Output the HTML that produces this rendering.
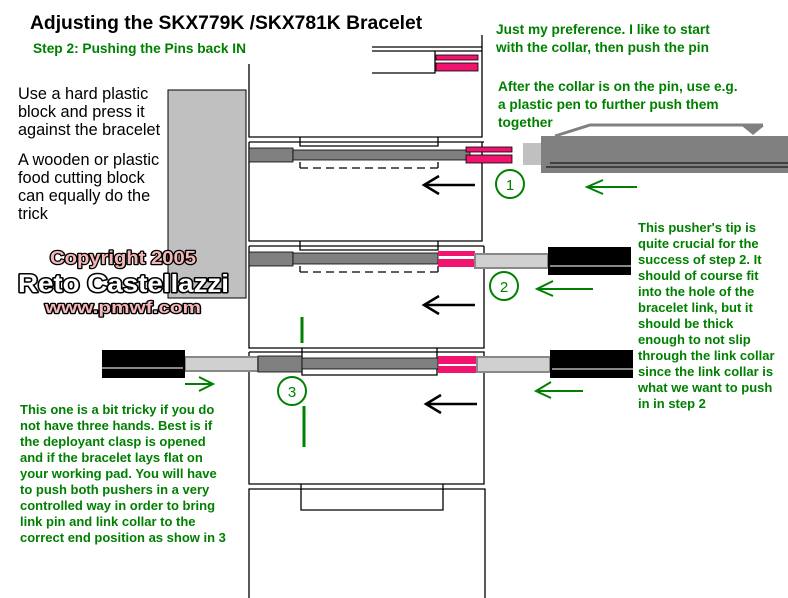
<!DOCTYPE html>
<html><head><style>
body{margin:0;background:#fff}
svg{display:block}
text{font-family:"Liberation Sans",Arial,sans-serif}
.g{fill:#008000;font-weight:bold;font-size:13.7px}
.k{font-size:16.3px;fill:#000}
</style></head><body>
<svg width="788" height="598" viewBox="0 0 788 598">
<text x="30" y="29" font-size="19.3" font-weight="bold">Adjusting the SKX779K /SKX781K Bracelet</text>
<text x="33" y="53" class="g" font-size="12">Step 2: Pushing the Pins back IN</text>
<g class="g">
<text x="496" y="34">Just my preference. I like to start</text>
<text x="496" y="52">with the collar, then push the pin</text>
<text x="498" y="91">After the collar is on the pin, use e.g.</text>
<text x="498" y="109">a plastic pen to further push them</text>
<text x="498" y="127">together</text>
<g font-size="13">
<text x="638" y="232">This pusher's tip is</text>
<text x="638" y="248">quite crucial for the</text>
<text x="638" y="264">success of step 2. It</text>
<text x="638" y="280">should of course fit</text>
<text x="638" y="296">into the hole of the</text>
<text x="638" y="312">bracelet link, but it</text>
<text x="638" y="328">should be thick</text>
<text x="638" y="344">enough to not slip</text>
<text x="638" y="360">through the link collar</text>
<text x="638" y="376">since the link collar is</text>
<text x="638" y="392">what we want to push</text>
<text x="638" y="408">in in step 2</text>
<text x="20" y="414">This one is a bit tricky if you do</text>
<text x="20" y="430">not have three hands. Best is if</text>
<text x="20" y="446">the deployant clasp is opened</text>
<text x="20" y="462">and if the bracelet lays flat on</text>
<text x="20" y="478">your working pad. You will have</text>
<text x="20" y="494">to push both pushers in a very</text>
<text x="20" y="510">controlled way in order to bring</text>
<text x="20" y="526">link pin and link collar to the</text>
<text x="20" y="542">correct end position as show in 3</text>
</g></g>
<g class="k">
<text x="18" y="99">Use a hard plastic</text>
<text x="18" y="117">block and press it</text>
<text x="18" y="135">against the bracelet</text>
<text x="18" y="165">A wooden or plastic</text>
<text x="18" y="183">food cutting block</text>
<text x="18" y="201">can equally do the</text>
<text x="18" y="219">trick</text>
</g>
<rect x="168" y="90" width="78" height="208" fill="#c0c0c0" stroke="#000"/>
<g font-weight="bold" stroke="#000" stroke-linejoin="round" style="paint-order:stroke">
<text x="50" y="264" font-size="18" fill="#f4b8b8" stroke-width="2.5" textLength="146" lengthAdjust="spacingAndGlyphs">Copyright 2005</text>
<text x="18" y="292" font-size="25" fill="#fff" stroke-width="3" textLength="211" lengthAdjust="spacingAndGlyphs">Reto Castellazzi</text>
<text x="45" y="313" font-size="17" fill="#f4b8b8" stroke-width="2.5" textLength="156" lengthAdjust="spacingAndGlyphs">www.pmwf.com</text>
</g>
<g fill="none" stroke="#000" stroke-width="1.3">
<path d="M482 35V137H249V64"/>
<path d="M372 47H482M372 51H482M372 73H435V51"/>
<path d="M249 142H484M300 137V146H438V137M249 142V241H482V142"/>
<path d="M300 162V168M438 162V168"/>
<path d="M300 168H438" stroke-dasharray="8,5"/>
<path d="M249 246H484M300 241V250H438V241M249 246V348H484V246"/>
<path d="M300 266V272M438 266V272"/>
<path d="M300 272H438" stroke-dasharray="8,5"/>
<path d="M249 352H484V484H249V352M302 348V375H437V348"/>
<path d="M249 598V489H485V598M301 484V510H443V484"/>
</g>
<rect x="436" y="55" width="42" height="5" fill="#f0146e" stroke="#000" stroke-width=".8"/>
<rect x="436" y="63" width="42" height="8" fill="#f0146e" stroke="#000" stroke-width=".8"/>
<rect x="249" y="148" width="44" height="14" fill="#808080" stroke="#000" stroke-width=".8"/>
<rect x="293" y="150" width="177" height="10" fill="#808080" stroke="#000" stroke-width=".8"/>
<rect x="466" y="147" width="46" height="5" fill="#f0146e" stroke="#000" stroke-width=".8"/>
<rect x="466" y="155" width="46" height="8" fill="#f0146e" stroke="#000" stroke-width=".8"/>
<rect x="523" y="143" width="18" height="22" fill="#c0c0c0"/>
<rect x="541" y="136" width="247" height="37" fill="#808080"/>
<path d="M555 136L590 125H763" fill="none" stroke="#808080" stroke-width="3"/>
<path d="M742 126H764L753 135Z" fill="#808080"/>
<path d="M550 163H788M546 167H788" stroke="#000"/>
<rect x="249" y="252" width="44" height="14" fill="#808080" stroke="#000" stroke-width=".8"/>
<rect x="293" y="253" width="145" height="11" fill="#808080" stroke="#000" stroke-width=".8"/>
<rect x="438" y="251" width="37" height="5" fill="#f0146e"/>
<rect x="438" y="259" width="37" height="8" fill="#f0146e"/>
<rect x="475" y="254" width="73" height="14" fill="#d0d0d0" stroke="#888" stroke-width="2"/>
<rect x="548" y="247" width="83" height="28" fill="#000"/>
<rect x="550" y="265" width="81" height="2" fill="#888"/>
<rect x="185" y="357" width="73" height="14" fill="#d0d0d0" stroke="#888" stroke-width="2"/>
<rect x="102" y="350" width="83" height="28" fill="#000"/>
<rect x="102" y="367" width="81" height="2" fill="#888"/>
<rect x="258" y="356" width="44" height="16" fill="#808080" stroke="#000" stroke-width=".8"/>
<rect x="302" y="358" width="136" height="11" fill="#808080" stroke="#000" stroke-width=".8"/>
<rect x="438" y="356" width="39" height="8" fill="#f0146e"/>
<rect x="438" y="366" width="39" height="7" fill="#f0146e"/>
<rect x="477" y="357" width="73" height="15" fill="#d0d0d0" stroke="#888" stroke-width="2"/>
<rect x="550" y="350" width="83" height="28" fill="#000"/>
<rect x="552" y="368" width="81" height="2" fill="#888"/>
<g stroke="#000" stroke-width="2.5" fill="none">
<path d="M475 185H424M439 176L424 185L439 194"/>
<path d="M475 305H424M439 296L424 305L439 314"/>
<path d="M477 404H426M441 395L426 404L441 413"/>
</g>
<g stroke="#008000" stroke-width="2" fill="none">
<circle cx="510" cy="184" r="14"/>
<circle cx="504" cy="286" r="14"/>
<circle cx="292" cy="391" r="14"/>
<path d="M637 187H587M603 180L587 187L603 194"/>
<path d="M593 289H537M553 281L537 289L553 296"/>
<path d="M583 391H536M551 382L536 391L551 398"/>
<path d="M185 384H213M199 377L213 384L199 391"/>
<path d="M302 317V343M304 406V447" stroke-width="3"/>
</g>
<g fill="#008000" font-size="15" text-anchor="middle">
<text x="510" y="190">1</text><text x="504" y="292">2</text><text x="292" y="397">3</text>
</g>
</svg>
</body></html>
